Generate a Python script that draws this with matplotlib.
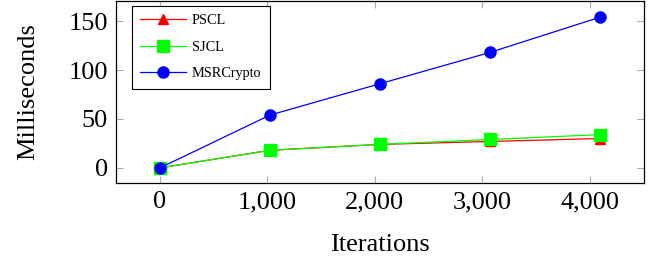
import matplotlib
matplotlib.use("Agg")
import matplotlib.pyplot as plt
from matplotlib.ticker import FuncFormatter

iterations = [0, 1024, 2048, 3072, 4096]
pscl = [0, 18, 24, 27, 30]
sjcl = [0, 18, 24, 29, 34]
msr = [0, 54, 86, 118, 154]

xticks = [0, 1000, 2000, 3000, 4000]
yticks = [0, 50, 100, 150]

plt.rcParams['font.family'] = 'Liberation Serif'

fig = plt.figure(figsize=(6.54, 2.6), dpi=100)
ax = fig.add_axes([0.1774, 0.296, 0.8073, 0.70])

ax.plot(iterations, pscl, color='red', lw=0.9, marker='^', ms=7, label='PSCL')
ax.plot(iterations, sjcl, color='#00ff00', lw=0.9, marker='s', ms=8, label='SJCL')
ax.plot(iterations, msr, color='blue', lw=0.9, marker='o', ms=8, label='MSRCrypto')

ax.set_xlim(-409.6, 4505.6)
ax.set_ylim(-15.5, 170.5)
ax.set_xticks(xticks)
ax.set_yticks(yticks)
ax.xaxis.set_major_formatter(FuncFormatter(lambda v, p: f"{int(v):,}"))
ax.tick_params(direction='in', top=True, right=True, color='#aaaaaa', length=5,
               labelsize=19, pad=6)
for s in ax.spines.values():
    s.set_linewidth(0.9)

ax.set_xlabel('Iterations', fontsize=19, labelpad=15)
ax.set_ylabel('Milliseconds', fontsize=19, labelpad=21)

leg = ax.legend(loc='upper left', bbox_to_anchor=(0.03, 0.975), fancybox=False,
                edgecolor='black', framealpha=1, prop={'size': 10.3},
                handlelength=3.2, handletextpad=0.4, labelspacing=0.95,
                borderpad=0.6, borderaxespad=0)
leg.get_frame().set_linewidth(0.8)

fig.savefig('out.png', dpi=100)
